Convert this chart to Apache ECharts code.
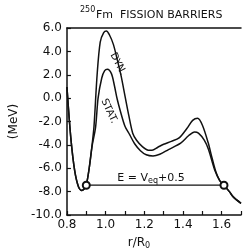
<!DOCTYPE html>
<html>
<head>
<meta charset="utf-8">
<script src="https://cdn.jsdelivr.net/npm/echarts@6/dist/echarts.min.js"></script>
<style>
    html, body { margin: 0; padding: 0; background: #fff; }
    #chart { width: 244px; height: 250px; }
</style>
</head>
<body>
<div id="chart"></div>
<script type="text/javascript">
    // r/R0 and barrier energy (MeV)
    var dynR = [0.80, 0.82, 0.84, 0.86, 0.877, 0.89, 0.90, 0.915, 0.93, 0.94, 0.956, 0.972, 0.99, 1.004, 1.02, 1.04, 1.06, 1.08, 1.10, 1.12, 1.14, 1.16, 1.19, 1.22, 1.24, 1.27, 1.30, 1.34, 1.38, 1.42, 1.45, 1.476, 1.50, 1.53, 1.55, 1.57, 1.59, 1.612, 1.64, 1.66, 1.70];
    var dynE = [0.95, -3.4, -6.2, -7.6, -7.9, -7.75, -7.45, -6.0, -4.0, -2.4, 2.0, 4.8, 5.6, 5.75, 5.4, 4.6, 3.3, 1.9, 0.2, -1.5, -3.0, -3.6, -4.15, -4.45, -4.45, -4.2, -3.95, -3.7, -3.4, -2.6, -1.9, -1.72, -2.3, -3.8, -5.1, -6.3, -7.05, -7.45, -8.0, -8.45, -9.0];
    var statR = [0.80, 0.82, 0.84, 0.86, 0.877, 0.89, 0.90, 0.915, 0.93, 0.948, 0.961, 0.98, 0.995, 1.009, 1.03, 1.045, 1.06, 1.077, 1.10, 1.125, 1.15, 1.18, 1.21, 1.245, 1.28, 1.325, 1.388, 1.43, 1.46, 1.48, 1.51, 1.532, 1.564, 1.59, 1.612, 1.64, 1.66, 1.70];
    var statE = [0.95, -3.4, -6.2, -7.6, -7.9, -7.75, -7.45, -6.0, -4.1, -2.5, 0.0, 1.72, 2.35, 2.47, 2.1, 1.1, -0.1, -1.16, -2.4, -3.15, -3.9, -4.5, -4.85, -4.95, -4.8, -4.4, -3.85, -3.2, -2.9, -3.0, -3.6, -4.4, -6.15, -7.05, -7.45, -8.0, -8.45, -9.0];
    // E = Veq + 0.5 level and its turning points
    var levelR = [0.90, 1.612];
    var levelE = [-7.45, -7.45];

    function pairs(xs, ys) {
        var out = [];
        for (var i = 0; i < xs.length; i++) out.push([xs[i], ys[i]]);
        return out;
    }

    var font = 'DejaVu Sans';
    var ink = '#111';

    var option = {
        animation: false,
        backgroundColor: '#fff',
        grid: { left: 57, right: -2, top: 28, bottom: 35 },
        xAxis: [{
            type: 'value',
            min: 0.8,
            max: 1.7,
            interval: 0.1,
            axisLine: { onZero: false, lineStyle: { color: ink, width: 1.5 } },
            axisTick: { inside: true, length: 4, lineStyle: { color: ink, width: 1.2 } },
            splitLine: { show: false },
            axisLabel: {
                color: ink, fontFamily: font, fontSize: 12, margin: 4,
                formatter: function (v) {
                    var k = Math.round(v * 10);
                    return (k % 2 === 0 && k < 17) ? (k / 10).toFixed(1) : '';
                }
            }
        }, {
            type: 'value',
            position: 'top',
            min: 0.8,
            max: 1.7,
            axisLine: { show: true, onZero: false, lineStyle: { color: ink, width: 1.5 } },
            axisTick: { show: false },
            axisLabel: { show: false },
            splitLine: { show: false }
        }],
        yAxis: {
            type: 'value',
            min: -10,
            max: 6,
            interval: 2,
            name: '(MeV)',
            nameLocation: 'middle',
            nameGap: 45,
            nameTextStyle: { color: ink, fontFamily: font, fontSize: 12 },
            axisLine: { show: true, onZero: false, lineStyle: { color: ink, width: 1.5 } },
            axisTick: { inside: true, length: 4, lineStyle: { color: ink, width: 1.2 } },
            splitLine: { show: false },
            axisLabel: {
                color: ink, fontFamily: font, fontSize: 12, margin: 5,
                formatter: function (v) { return v.toFixed(1); }
            }
        },
        series: [{
            type: 'line',
            data: pairs(dynR, dynE),
            smooth: 0.3,
            symbol: 'none',
            lineStyle: { color: ink, width: 1.5 }
        }, {
            type: 'line',
            data: pairs(statR, statE),
            smooth: 0.3,
            symbol: 'none',
            lineStyle: { color: ink, width: 1.5 }
        }, {
            type: 'line',
            data: pairs(levelR, levelE),
            symbol: 'emptyCircle',
            symbolSize: 7,
            itemStyle: { color: ink, borderColor: ink, borderWidth: 1.2 },
            lineStyle: { color: ink, width: 1.2 },
            z: 5
        }],
        graphic: [{
            type: 'text', left: 80, top: 6,
            style: { text: '250', font: '8px ' + font, fill: ink }
        }, {
            type: 'text', left: 96, top: 10,
            style: { text: 'Fm  FISSION BARRIERS', font: '11px ' + font, fill: ink }
        }, {
            type: 'text', x: 118, y: 64, rotation: -63 * Math.PI / 180,
            style: { text: 'DYN.', font: '10px ' + font, fill: ink, align: 'center', verticalAlign: 'middle' }
        }, {
            type: 'text', x: 109, y: 111, rotation: -65 * Math.PI / 180,
            style: { text: 'STAT.', font: '10px ' + font, fill: ink, align: 'center', verticalAlign: 'middle' }
        }, {
            type: 'text', x: 151, y: 178,
            style: {
                text: '{a|E = V}{s|eq}{a|+0.5}',
                align: 'center', verticalAlign: 'middle',
                rich: {
                    a: { font: '11px ' + font, fill: ink, lineHeight: 14 },
                    s: { font: '8px ' + font, fill: ink, lineHeight: 8, verticalAlign: 'bottom' }
                }
            }
        }, {
            type: 'text', x: 139, y: 243,
            style: {
                text: '{a|r/R}{s|0}',
                align: 'center', verticalAlign: 'middle',
                rich: {
                    a: { font: '12px ' + font, fill: ink, lineHeight: 14 },
                    s: { font: '8px ' + font, fill: ink, lineHeight: 8, verticalAlign: 'bottom' }
                }
            }
        }]
    };

    var chart = echarts.init(document.getElementById('chart'));
    chart.setOption(option);
</script>
</body>
</html>
